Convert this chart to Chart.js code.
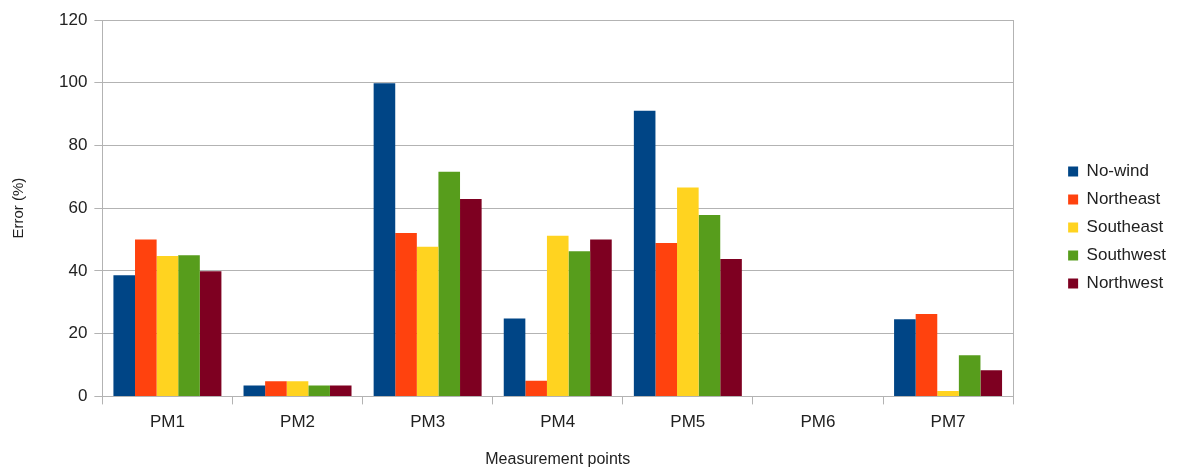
<!DOCTYPE html>
<html>
<head>
<meta charset="utf-8">
<script src="https://cdn.jsdelivr.net/npm/chart.js@4/dist/chart.umd.min.js"></script>
<style>
  html, body { margin: 0; padding: 0; background: #ffffff; }
  #wrap { width: 1181px; height: 469px; }
</style>
</head>
<body>
<div id="wrap"><canvas id="c" width="1181" height="469"></canvas></div>
<script>
const categories = ['PM1', 'PM2', 'PM3', 'PM4', 'PM5', 'PM6', 'PM7'];
const noWind    = [38.6, 3.5, 99.8, 24.8, 91.1, 0, 24.6];
const northeast = [50.0, 4.8, 52.1,  5.0, 48.9, 0, 26.3];
const southeast = [44.8, 4.8, 47.7, 51.2, 66.6, 0,  1.7];
const southwest = [45.0, 3.5, 71.6, 46.3, 57.8, 0, 13.1];
const northwest = [39.9, 3.5, 62.9, 50.0, 43.8, 0,  8.3];
const seriesNames = ['No-wind', 'Northeast', 'Southeast', 'Southwest', 'Northwest'];
const seriesColors = ['#004586', '#ff420e', '#ffd320', '#579d1c', '#7e0021'];
const yTicks = [0, 20, 40, 60, 80, 100, 120];

const FONT = "'Liberation Sans', Arial, sans-serif";
const GRID = '#b3b3b3';
const TEXT = '#222222';

const seriesValues = [noWind, northeast, southeast, southwest, northwest];
const datasets = seriesValues.map((vals, i) => ({
  label: seriesNames[i],
  data: vals,
  backgroundColor: seriesColors[i],
  borderWidth: 0,
  categoryPercentage: 0.83,
  barPercentage: 1.0,
  yAxisID: 'y'
}));

new Chart(document.getElementById('c'), {
  type: 'bar',
  data: { labels: categories, datasets: datasets },
  options: {
    responsive: false,
    animation: false,
    devicePixelRatio: 1,
    layout: { padding: { top: 20, right: 5, bottom: 0, left: 0 } },
    plugins: {
      tooltip: { enabled: false },
      legend: {
        position: 'right',
        align: 'start',
        title: { display: true, text: ' ', font: { size: 10 }, padding: { top: 120, bottom: 0 } },
        labels: {
          boxWidth: 10,
          boxHeight: 10,
          padding: 11,
          color: TEXT,
          font: { family: FONT, size: 17 }
        }
      }
    },
    scales: {
      x: {
        grid: { display: true, offset: true, drawOnChartArea: false, drawTicks: true, tickLength: 8, color: GRID },
        border: { display: true, color: GRID },
        ticks: { color: TEXT, font: { family: FONT, size: 17 }, padding: 8, maxRotation: 0 },
        title: { display: true, text: 'Measurement points', color: TEXT, font: { family: FONT, size: 16 }, padding: { top: 9, bottom: 0 } }
      },
      y: {
        min: 0,
        max: 120,
        afterBuildTicks: (s) => { s.ticks = yTicks.map(v => ({ value: v })); },
        grid: { color: GRID, tickLength: 8, drawTicks: true },
        border: { display: true, color: GRID },
        ticks: { color: TEXT, font: { family: FONT, size: 17 }, padding: 7 },
        title: { display: true, text: 'Error (%)', color: TEXT, font: { family: FONT, size: 15 }, padding: { top: 10, bottom: 24 } }
      },
      y2: {
        position: 'right',
        display: true,
        min: 0,
        max: 1,
        grid: { display: false, drawOnChartArea: false, drawTicks: false },
        border: { display: true, color: GRID },
        ticks: { display: false },
        afterFit: (s) => { s.width = 44; }
      }
    }
  }
});
</script>
</body>
</html>
